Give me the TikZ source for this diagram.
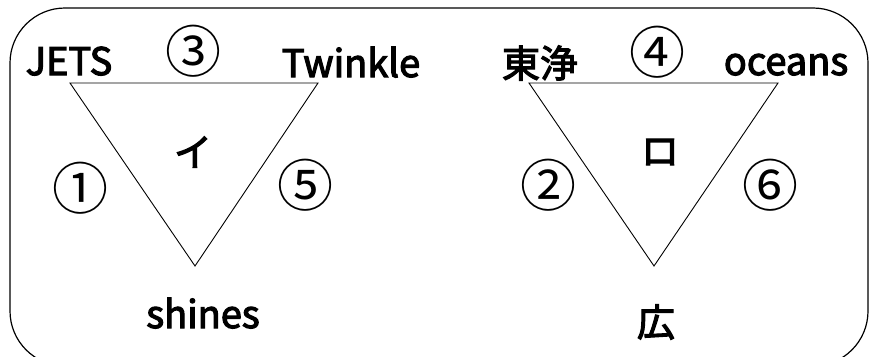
\documentclass[tikz,border=0pt]{standalone}
\usepackage{fontspec}
\setmainfont{Noto Sans CJK JP}
\newfontfamily\lblfont{Noto Sans CJK JP}[FakeBold=3]
\begin{document}
\begin{tikzpicture}[x=1pt,y=-1pt,
  lbl/.style={inner sep=0pt,font=\fontsize{38}{40}\lblfont},
  num/.style={inner sep=0pt,font=\fontsize{56}{58}\selectfont},
  tri/.style={draw=black,line width=0.9pt,line join=miter},
  frame/.style={draw=black,line width=1.2pt,rounded corners=55pt}]
\useasboundingbox (0,0) rectangle (869,356);
\clip (0,0) rectangle (869,356);
\draw[frame] (10,8) rectangle (868,366);
% triangle 1
\coordinate (a1) at (70,83);
\coordinate (b1) at (318,83);
\coordinate (c1) at (195,266);
\draw[tri] (a1) -- (b1) -- (c1) -- cycle;
% triangle 2
\coordinate (a2) at (529,83);
\coordinate (b2) at (778,83);
\coordinate (c2) at (654,266);
\draw[tri] (a2) -- (b2) -- (c2) -- cycle;
% labels
\node[lbl,anchor=base] (jets) at (69,75) {JETS};
\node[num] (n3) at (193,51) {③};
\node[lbl,anchor=base] (twinkle) at (351,77) {Twinkle};
\node[lbl] (toujou) at (540,63) {東浄};
\node[num] (n4) at (657,52) {④};
\node[lbl,anchor=base] (oceans) at (786,75) {oceans};
\node[lbl] (i) at (193,152) {イ};
\node[lbl] (ro) at (660,152) {ロ};
\node[num] (n1) at (80,188) {①};
\node[num] (n5) at (305,185) {⑤};
\node[num] (n2) at (548,185) {②};
\node[num] (n6) at (770,185) {⑥};
\node[lbl,anchor=base] (shines) at (203,328) {shines};
\node[lbl] (hiro) at (656,322) {広};
\end{tikzpicture}
\end{document}
